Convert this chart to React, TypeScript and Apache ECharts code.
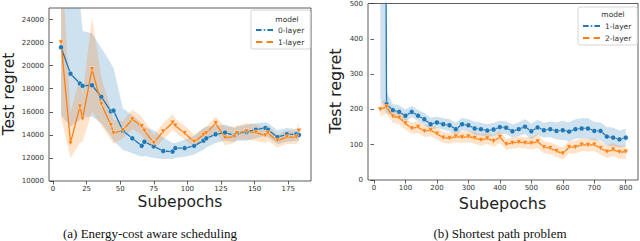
import React, { useEffect, useRef } from "react";
import * as echarts from "echarts";

// ---------- (a) Energy-cost aware scheduling ----------
const schedX = [6, 13, 20, 22, 29, 36, 43, 45, 52, 59, 66, 68, 75, 82, 89, 91, 98, 105, 112, 114, 121, 128, 135, 137, 144, 151, 158, 160, 167, 174, 181, 183];
const layer0 = [21600, 19300, 18450, 18250, 18300, 17300, 16050, 16100, 14350, 13700, 13050, 13400, 13000, 12600, 12550, 12850, 12850, 13050, 13500, 13700, 14050, 14200, 13950, 14150, 14250, 14450, 14600, 14450, 13800, 14050, 14050, 14000];
const layer0Low = [15700, 14700, 15300, 15500, 15600, 15000, 13900, 13500, 12700, 12400, 12100, 12200, 12000, 11900, 11900, 12000, 12100, 12300, 12700, 12900, 13300, 13500, 13400, 13500, 13500, 13700, 13900, 13800, 13200, 13400, 13500, 13500];
const layer0High = [30000, 30000, 25500, 23000, 22800, 21500, 20200, 19800, 16300, 15700, 15000, 14700, 14400, 13800, 13300, 13300, 13600, 13900, 14600, 14700, 14800, 14900, 14600, 14700, 14900, 15000, 15100, 15000, 14400, 14600, 14500, 14500];
const layer1a = [22000, 13300, 16450, 15400, 19700, 16650, 14850, 14150, 14400, 15350, 14750, 14350, 13300, 14300, 15050, 14800, 14150, 13400, 14000, 14150, 15000, 13750, 13850, 14150, 14300, 14200, 13950, 14150, 13500, 13800, 13800, 14350];
const layer1aLow = [15500, 12000, 13300, 13400, 16000, 14800, 13600, 13200, 13700, 14500, 14000, 13500, 12700, 13600, 14400, 14200, 13600, 12900, 13400, 13600, 14300, 13100, 13300, 13600, 13600, 13500, 13300, 13500, 12900, 13200, 13200, 13500];
const layer1aHigh = [30000, 16000, 19000, 17500, 24200, 19000, 16200, 15300, 15200, 16200, 15600, 15200, 14000, 15000, 15800, 15400, 14800, 14000, 14600, 14700, 15600, 14700, 14700, 14800, 15000, 14900, 14600, 14800, 14000, 14400, 14400, 15100];
const schedXTicks = [0, 25, 50, 75, 100, 125, 150, 175];
const schedYTicks = [10000, 12000, 14000, 16000, 18000, 20000, 22000, 24000];

// ---------- (b) Shortest path problem ----------
const pathX = [20, 40, 60, 80, 100, 120, 140, 160, 180, 200, 220, 240, 260, 280, 300, 320, 340, 360, 380, 400, 420, 440, 460, 480, 500, 520, 540, 560, 580, 600, 620, 640, 660, 680, 700, 720, 740, 760, 780, 800];
const layer1b = [4000, 215, 198, 193, 182, 193, 182, 172, 158, 163, 158, 155, 144, 158, 155, 146, 144, 140, 143, 150, 148, 138, 144, 151, 138, 149, 141, 144, 139, 141, 137, 144, 146, 146, 139, 139, 123, 120, 115, 120];
const layer1bLow = [230, 190, 180, 175, 165, 178, 167, 155, 142, 147, 142, 138, 128, 140, 138, 128, 126, 123, 125, 131, 130, 120, 125, 130, 115, 128, 120, 122, 115, 113, 110, 117, 118, 117, 112, 112, 97, 95, 92, 95];
const layer1bHigh = [9000, 250, 215, 212, 200, 210, 198, 190, 176, 180, 175, 172, 162, 176, 172, 165, 162, 158, 162, 168, 166, 157, 163, 172, 160, 170, 162, 166, 163, 168, 163, 172, 175, 175, 165, 163, 150, 148, 140, 145];
const layer2b = [200, 207, 180, 176, 160, 146, 150, 138, 141, 131, 120, 118, 123, 121, 123, 119, 113, 118, 110, 122, 101, 105, 107, 105, 104, 109, 93, 90, 82, 75, 93, 93, 100, 99, 100, 90, 80, 86, 79, 80];
const layer2bLow = [180, 188, 162, 158, 143, 130, 133, 122, 124, 115, 105, 103, 107, 105, 107, 103, 97, 102, 94, 105, 85, 89, 91, 89, 87, 90, 76, 73, 65, 58, 75, 75, 82, 81, 82, 72, 62, 68, 60, 60];
const layer2bHigh = [222, 228, 200, 194, 177, 162, 167, 155, 158, 148, 136, 134, 139, 137, 139, 135, 129, 134, 126, 139, 117, 121, 123, 121, 122, 130, 110, 107, 99, 92, 111, 111, 118, 117, 118, 108, 98, 104, 97, 98];
const pathXTicks = [0, 100, 200, 300, 400, 500, 600, 700, 800];
const pathYTicks = [0, 100, 200, 300, 400, 500];

const BLUE = "#1f77b4";
const ORANGE = "#ff7f0e";
const BLUE_BAND = "rgba(31,119,180,0.22)";
const ORANGE_BAND = "rgba(255,127,14,0.22)";
const FONT = "DejaVu Sans";

const pairs = (xs: number[], ys: number[]) => xs.map((x, i) => [x, ys[i]]);

function bandSeries(idx: number, xs: number[], lo: number[], hi: number[], color: string) {
  return {
    type: "custom", xAxisIndex: idx, yAxisIndex: idx, data: pairs(xs, lo), encode: { x: 0, y: 1 },
    silent: true, z: 1,
    renderItem: (params: any, api: any) => {
      if (params.dataIndex !== 0) return null;
      const pts: number[][] = [];
      for (let i = 0; i < xs.length; i++) pts.push(api.coord([xs[i], hi[i]]));
      for (let i = xs.length - 1; i >= 0; i--) pts.push(api.coord([xs[i], lo[i]]));
      const cs = params.coordSys;
      return {
        type: "polygon",
        shape: { points: pts },
        style: { fill: color, stroke: "none" },
        clipPath: { type: "rect", shape: { x: cs.x, y: cs.y, width: cs.width, height: cs.height } },
      };
    },
  };
}

function lineSeries(idx: number, name: string, xs: number[], ys: number[], color: string, tri: boolean) {
  return {
    type: "line", name, xAxisIndex: idx, yAxisIndex: idx, data: pairs(xs, ys),
    symbol: tri ? "triangle" : "circle", symbolRotate: tri ? 180 : 0, symbolSize: 5,
    lineStyle: { color, width: 1.3 }, itemStyle: { color, borderColor: "#fff", borderWidth: 0.4 },
    z: 3,
  };
}

const axisLabel = { color: "#333", fontSize: 7, fontFamily: FONT, formatter: (v: number) => String(v) };
const axisTick = { show: true, length: 3.5, lineStyle: { color: "#333", width: 0.8 } };

const legendNames: Record<string, string> = {
  "a0": "0-layer", "a1": "1-layer", "b1": "1-layer", "b2": "2-layer",
};

export default function App() {
  const ref = useRef<HTMLDivElement>(null);
  useEffect(() => {
    if (!ref.current) return;
    const chart = echarts.init(ref.current, undefined, { renderer: "svg" });
    const legendBase = {
      orient: "vertical", itemWidth: 17, itemHeight: 5, itemGap: 4,
      backgroundColor: "#fff", borderColor: "#ccc", borderWidth: 0.8, borderRadius: 2,
      textStyle: { color: "#333", fontSize: 7.5, fontFamily: FONT },
      formatter: (n: string) => legendNames[n] ?? n,
      selectedMode: false,
    };
    chart.setOption({
      animation: false,
      grid: [
        { left: 49, right: 329, top: 8, bottom: 60, show: true, borderColor: "#333", borderWidth: 0.8, backgroundColor: "transparent" },
        { left: 368, right: 2, top: 3, bottom: 61, show: true, borderColor: "#333", borderWidth: 0.8, backgroundColor: "transparent" },
      ],
      xAxis: [
        {
          type: "value", gridIndex: 0, min: -3, max: 192, splitLine: { show: false }, axisLine: { show: false },
          axisTick: { ...axisTick, customValues: schedXTicks }, axisLabel: { ...axisLabel, margin: 4, customValues: schedXTicks },
        },
        {
          type: "value", gridIndex: 1, min: -19, max: 839, splitLine: { show: false }, axisLine: { show: false },
          axisTick: { ...axisTick, customValues: pathXTicks }, axisLabel: { ...axisLabel, margin: 4, customValues: pathXTicks },
        },
      ],
      yAxis: [
        {
          type: "value", gridIndex: 0, min: 10000, max: 25000, splitLine: { show: false }, axisLine: { show: false },
          axisTick: { ...axisTick, customValues: schedYTicks }, axisLabel: { ...axisLabel, margin: 5, customValues: schedYTicks },
        },
        {
          type: "value", gridIndex: 1, min: 0, max: 500, splitLine: { show: false }, axisLine: { show: false },
          axisTick: { ...axisTick, customValues: pathYTicks }, axisLabel: { ...axisLabel, margin: 5, customValues: pathYTicks },
        },
      ],
      legend: [
        { ...legendBase, data: ["a0", "a1"], left: 251, top: 10, padding: [16, 6, 3, 4] },
        { ...legendBase, data: ["b1", "b2"], left: 578, top: 7, padding: [15, 6, 3, 4] },
      ],
      series: [
        bandSeries(0, schedX, layer0Low, layer0High, BLUE_BAND),
        bandSeries(0, schedX, layer1aLow, layer1aHigh, ORANGE_BAND),
        bandSeries(1, pathX, layer1bLow, layer1bHigh, BLUE_BAND),
        bandSeries(1, pathX, layer2bLow, layer2bHigh, ORANGE_BAND),
        lineSeries(0, "a0", schedX, layer0, BLUE, false),
        lineSeries(0, "a1", schedX, layer1a, ORANGE, true),
        lineSeries(1, "b1", pathX, layer1b, BLUE, false),
        lineSeries(1, "b2", pathX, layer2b, ORANGE, true),
      ],
      graphic: [
        { type: "text", z: 100, x: 287, y: 19, style: { text: "model", fontSize: 7.5, fontFamily: FONT, fill: "#333", textAlign: "center", textVerticalAlign: "middle" } },
        { type: "text", z: 100, x: 613, y: 14, style: { text: "model", fontSize: 7.5, fontFamily: FONT, fill: "#333", textAlign: "center", textVerticalAlign: "middle" } },
        { type: "text", z: 100, x: 8.5, y: 94, rotation: Math.PI / 2, style: { text: "Test regret", fontSize: 15.5, fontFamily: FONT, fill: "#222", textAlign: "center", textVerticalAlign: "middle" } },
        { type: "text", z: 100, x: 335.5, y: 91, rotation: Math.PI / 2, style: { text: "Test regret", fontSize: 16, fontFamily: FONT, fill: "#222", textAlign: "center", textVerticalAlign: "middle" } },
        { type: "text", z: 100, x: 180, y: 202, style: { text: "Subepochs", fontSize: 15.5, fontFamily: FONT, fill: "#222", textAlign: "center", textVerticalAlign: "middle" } },
        { type: "text", z: 100, x: 502.5, y: 203, style: { text: "Subepochs", fontSize: 16, fontFamily: FONT, fill: "#222", textAlign: "center", textVerticalAlign: "middle" } },
        { type: "text", z: 100, x: 150, y: 233, style: { text: "(a) Energy-cost aware scheduling", fontSize: 13, fontFamily: "Liberation Serif", fill: "#111", textAlign: "center", textVerticalAlign: "middle" } },
        { type: "text", z: 100, x: 500, y: 233, style: { text: "(b) Shortest path problem", fontSize: 13, fontFamily: "Liberation Serif", fill: "#111", textAlign: "center", textVerticalAlign: "middle" } },
      ],
    });
    return () => chart.dispose();
  }, []);
  return (
    <div
      ref={ref}
      style={{ position: "fixed", left: 0, top: 0, width: 640, height: 241, background: "#fff" }}
    />
  );
}
